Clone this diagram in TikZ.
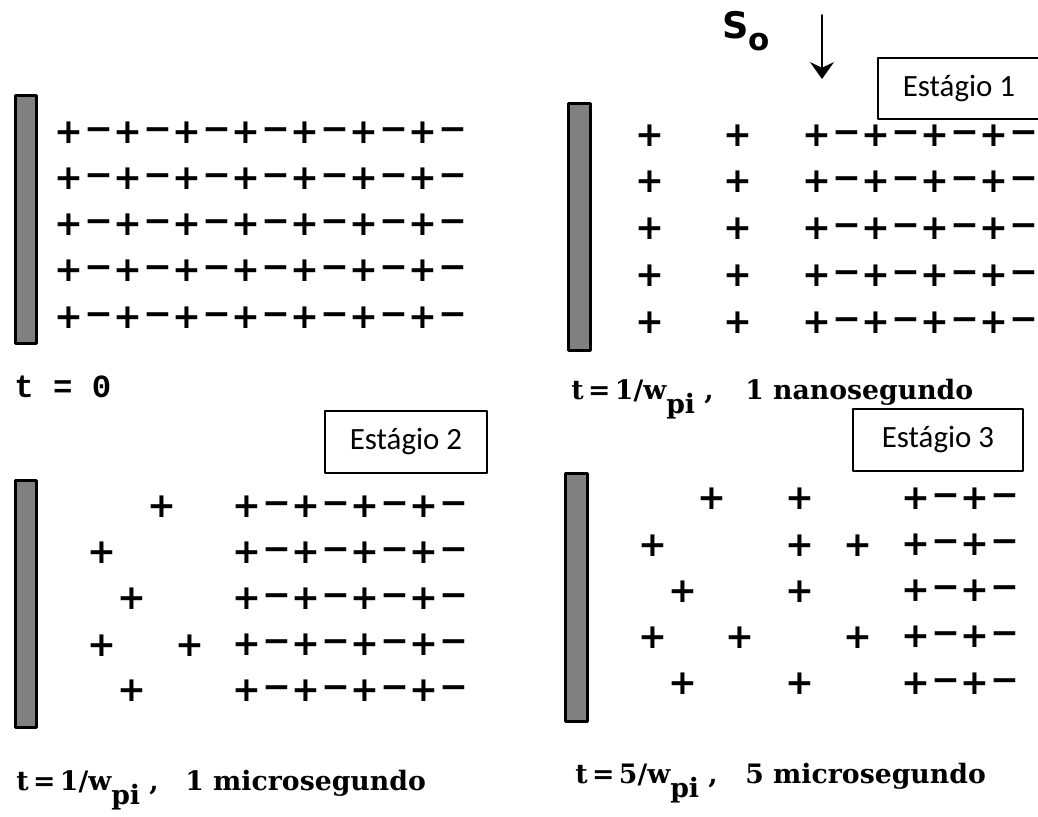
\documentclass[tikz,border=0pt]{standalone}
\usepackage{fontspec}
\usepackage{xcolor}
\usetikzlibrary{arrows.meta}
\newfontfamily\chargefont{DejaVu Sans}
\newfontfamily\capfont{DejaVu Serif}
\newfontfamily\zerofont{Liberation Mono}
\newfontfamily\stagefont{Carlito}
\definecolor{inkC}{HTML}{000000}
\definecolor{plateC}{HTML}{808080}
\newcommand{\pisub}{\raisebox{-10.5pt}{pi}}

\begin{document}
\begin{tikzpicture}[
  x=0.025cm,
  y=-0.025cm,
  line cap=round,
  line join=round,
  plate/.style={draw=inkC, fill=plateC, line width=2.1pt},
  pluschg/.style={inner sep=0pt, anchor=center, text=inkC,
    text height=16pt, text depth=0pt,
    font=\chargefont\bfseries\fontsize{24.5}{24.5}\selectfont},
  minuschg/.style={pluschg},
  stagebox/.style={draw=inkC, line width=0.9pt, inner sep=0pt,
    font=\stagefont\fontsize{22}{22}\selectfont},
  capt/.style={anchor=base west, inner sep=0pt,
    font=\capfont\bfseries\fontsize{19}{19}\selectfont},
  push/.style={inkC, line width=1.2pt, -{Stealth[length=12pt, width=17pt, inset=4pt]}}
]
\useasboundingbox (0,0) rectangle (1038,816);

% Panel 1: t = 0
\draw[plate] (15.5,95.5) rectangle (36.5,343.5);
\foreach \r in {0,...,4}{
  \foreach \k in {0,...,6}{
    \node[pluschg] (pa-\r-\k) at ({69+59*\k},{132+46.2*\r}) {+};
    \node[minuschg] (ma-\r-\k) at ({98.5+59*\k},{129+46.2*\r}) {−};
  }
}
\node[anchor=base west, inner sep=0pt, font=\zerofont\bfseries\fontsize{23}{23}\selectfont]
  (capa) at (14,397) {t = 0};

% Panel 2: Estagio 1
\node[anchor=base west, inner sep=0pt, font=\chargefont\bfseries\fontsize{26}{26}\selectfont]
  (szero) at (722,38) {S\raisebox{-9pt}{\fontsize{22}{22}\selectfont o}};
\coordinate (arrtop) at (822,15);
\coordinate (arrtip) at (822,79);
\draw[push] (arrtop) -- (arrtip);
\node[stagebox, minimum width=4.05cm, minimum height=1.525cm] (stA) at (959,88.5) {Estágio 1};
\draw[plate] (568.5,103.5) rectangle (590.5,350.5);
\foreach \r in {0,...,4}{
  \node[pluschg] (pb-\r-a) at (650,{135+46.7*\r}) {+};
  \node[pluschg] (pb-\r-b) at (738,{135+46.7*\r}) {+};
  \foreach \k in {0,...,3}{
    \node[pluschg] (pb-\r-\k) at ({817+59*\k},{135+46.7*\r}) {+};
    \node[minuschg] (mb-\r-\k) at ({846.5+59*\k},{132+46.7*\r}) {−};
  }
}
\node[capt] (capb) at (571,399) {t\,=\,1/w\pisub\ ,};
\node[capt] (capbr) at (745,399) {1 nanosegundo};

% Panel 3: Estagio 2
\node[stagebox, minimum width=4.05cm, minimum height=1.55cm] (stB) at (406,442) {Estágio 2};
\draw[plate] (15.5,480.5) rectangle (36.5,727.5);
\foreach \r in {0,...,4}{
  \foreach \k in {0,...,3}{
    \node[pluschg] (pc-\r-\k) at ({247+59*\k},{506+46*\r}) {+};
    \node[minuschg] (mc-\r-\k) at ({276.5+59*\k},{503+46*\r}) {−};
  }
}
\foreach \px/\py [count=\i] in {162/506, 102/552, 132/598, 102/645, 190/645, 132/690}{
  \node[pluschg] (qc-\i) at (\px,\py) {+};
}
\node[capt] (capc) at (16,790) {t\,=\,1/w\pisub\ ,};
\node[capt] (capcr) at (185,790) {1 microsegundo};

% Panel 4: Estagio 3
\node[stagebox, minimum width=4.25cm, minimum height=1.55cm] (stC) at (938,440) {Estágio 3};
\draw[plate] (565.5,473.5) rectangle (587.5,721.5);
\foreach \r in {0,...,4}{
  \foreach \k in {0,...,1}{
    \node[pluschg] (pd-\r-\k) at ({916+59*\k},{498+46.2*\r}) {+};
    \node[minuschg] (md-\r-\k) at ({945.5+59*\k},{495+46.2*\r}) {−};
  }
}
\foreach \px/\py [count=\i] in {712/498, 800/498, 653/545, 800/545, 858/545, 683/591,
  800/591, 653/637, 740/637, 858/637, 683/683, 800/683}{
  \node[pluschg] (qd-\i) at (\px,\py) {+};
}
\node[capt] (capd) at (575,783) {t\,=\,5/w\pisub\ ,};
\node[capt] (capdr) at (745,783) {5 microsegundo};

\end{tikzpicture}
\end{document}
